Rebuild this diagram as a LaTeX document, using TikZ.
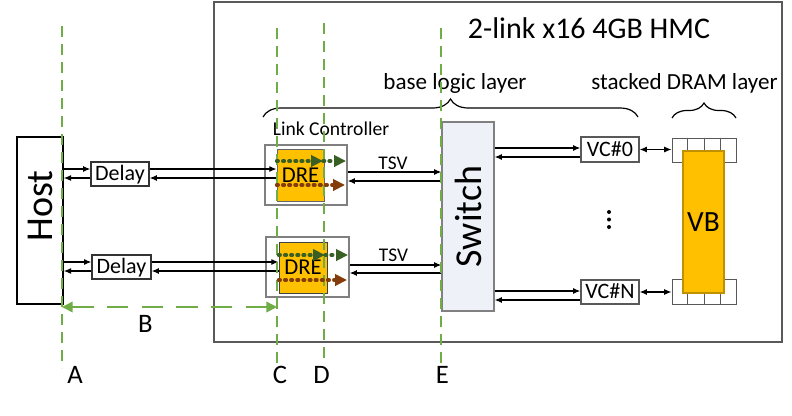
\documentclass[tikz,border=0pt]{standalone}
\usepackage{fontspec}
\setmainfont{Carlito}
\usetikzlibrary{arrows.meta,calc,decorations.pathreplacing}
\definecolor{guidegreen}{HTML}{70AD47}
\definecolor{dotgreen}{HTML}{3A5F24}
\definecolor{dotbrown}{HTML}{843C0C}
\definecolor{dreorange}{HTML}{FFC000}
\definecolor{vbborder}{HTML}{BF9000}
\definecolor{swfill}{HTML}{EEF1F8}
\newcommand\fsz[1]{\fontsize{#1}{#1}\selectfont}
\begin{document}
\begin{tikzpicture}[x=0.75pt,y=-0.75pt,
  sz/.style 2 args={minimum width=#1*0.75pt, minimum height=#2*0.75pt},
  box/.style={draw=#1, fill=white, line width=0.9pt, inner sep=0pt},
  box/.default=black,
  arr/.style={-{Latex[length=5.5pt,width=4.5pt]}, line width=0.9pt},
  darr/.style={{Latex[length=5.5pt,width=4.5pt]}-{Latex[length=5.5pt,width=4.5pt]}, line width=0.9pt},
  guide/.style={guidegreen, line width=1pt, dash pattern=on 8.5pt off 5pt},
  span/.style={guidegreen, line width=1.1pt, dash pattern=on 16pt off 10pt, {Triangle[length=8pt,width=8pt]}-{Triangle[length=8pt,width=8pt]}},
  dotline/.style={line width=2.6pt, line cap=round, dash pattern=on 1.2pt off 3.4pt, -{Triangle[length=9pt,width=8.5pt]}},
  lbl/.style={anchor=base, inner sep=0pt},
  brc/.style={decorate, decoration={brace, amplitude=#1}, line width=0.9pt},
  captext/.style={text height=#1, text depth=0pt}
]
\path[use as bounding box] (0,0) rectangle (792,415);

% HMC frame
\node[box=black!65, line width=1.1pt, sz={568}{340}] (hmc) at (498,172) {};

% Host
\node[box=black, line width=1.1pt, sz={46}{167}] (host) at (40,220.5) {};
\node[rotate=90, font=\fsz{28.5pt}, inner sep=0pt] (hosttxt) at (40,206) {Host};

% Delay boxes
\node[box=black!80, sz={58}{24}, font=\fsz{16.5pt}, captext=10.4pt] (dl1) at (120,174) {Delay};
\node[box=black!80, sz={59}{24}, font=\fsz{16.5pt}, captext=10.4pt] (dl2) at (121.5,267) {Delay};

% Link controllers and DREs
\node[box=black!50, sz={82}{60}] (lc1) at (306,175) {};
\node[draw=black!60, fill=dreorange, line width=0.6pt, inner sep=0pt, sz={47}{52}, font=\fsz{17pt}, captext=10.7pt] (dre1) at (300.5,175) {DRE};
\node[box=black!50, sz={83}{60}] (lc2) at (307.5,267) {};
\node[draw=black!75, fill=dreorange, line width=0.6pt, inner sep=0pt, sz={48}{51}, font=\fsz{17pt}, captext=10.7pt] (dre2) at (303,267.5) {DRE};

% Switch
\node[draw=black!50, fill=swfill, line width=0.9pt, inner sep=0pt, sz={52}{189}] (sw) at (468,216.5) {};
\node[rotate=90, font=\fsz{28.5pt}, inner sep=0pt] (swtxt) at (468,216.5) {Switch};

% VCs
\node[box=black!65, sz={58}{25}, font=\fsz{16.5pt}, captext=10.4pt] (vc0) at (610,149.5) {VC\#0};
\node[box=black!65, sz={58}{24}, font=\fsz{16.5pt}, captext=10.4pt] (vcn) at (610,292) {VC\#N};

% Buffers
\node[box=black!65, line width=0.7pt, sz={64}{24}] (buf0) at (704,150) {};
\node[box=black!65, line width=0.7pt, sz={64}{25}] (bufn) at (704,291.5) {};
\foreach \b in {buf0,bufn}
  \foreach \i in {1,2,3}
    \draw[black!65, line width=0.7pt] ($(\b.north west)!\i/4!(\b.north east)$) -- ($(\b.south west)!\i/4!(\b.south east)$);

% VB
\node[draw=vbborder, fill=dreorange, line width=0.9pt, inner sep=0pt, sz={41}{142}, font=\fsz{22pt}, captext=13.9pt] (vb) at (703.5,222) {VB};

% vertical dots
\foreach \yy in {212,219.5,227}
  \fill (609,\yy) circle[radius=2];

% Texts
\node[lbl, font=\fsz{22.5pt}] (title) at (589,38) {2-link x16 4GB HMC};
\node[lbl, font=\fsz{17.3pt}] (bll) at (455,89) {base logic layer};
\node[lbl, font=\fsz{17.3pt}] (sdl) at (684.5,89) {stacked DRAM layer};
\node[lbl, font=\fsz{14.7pt}] (lct) at (331,135) {Link Controller};
\node[lbl, font=\fsz{14.5pt}] (tsv1) at (393,169) {TSV};
\node[lbl, font=\fsz{14.5pt}] (tsv2) at (393.5,261) {TSV};

% Braces
\draw[brc=13.5pt] (263,117) -- (638,117);
\draw[brc=11.25pt] (672,118) -- (736,118);

% Link arrows
\coordinate (r1a) at (0,169); \coordinate (r1b) at (0,178);
\coordinate (r2a) at (0,262); \coordinate (r2b) at (0,271);
\draw[arr] (host.east |- r1a) -- (dl1.west |- r1a);
\draw[arr] (dl1.west |- r1b) -- (host.east |- r1b);
\draw[arr] (dl1.east |- r1a) -- (dre1.west |- r1a);
\draw[arr] (dre1.west |- r1b) -- (dl1.east |- r1b);
\draw[arr] (host.east |- r2a) -- (dl2.west |- r2a);
\draw[arr] (dl2.west |- r2b) -- (host.east |- r2b);
\draw[arr] (dl2.east |- r2a) -- (dre2.west |- r2a);
\draw[arr] (dre2.west |- r2b) -- (dl2.east |- r2b);

% TSV arrows
\coordinate (t1a) at (0,172); \coordinate (t1b) at (0,181);
\coordinate (t2a) at (0,265); \coordinate (t2b) at (0,273);
\draw[arr] (lc1.east |- t1a) -- (sw.west |- t1a);
\draw[arr] (sw.west |- t1b) -- (lc1.east |- t1b);
\draw[arr] (lc2.east |- t2a) -- (sw.west |- t2a);
\draw[arr] (sw.west |- t2b) -- (lc2.east |- t2b);

% Switch - VC arrows
\coordinate (s0a) at (0,148); \coordinate (s0b) at (0,157);
\coordinate (sna) at (0,291); \coordinate (snb) at (0,300);
\draw[arr] (sw.east |- s0a) -- (vc0.west |- s0a);
\draw[arr] (vc0.west |- s0b) -- (sw.east |- s0b);
\draw[arr] (sw.east |- sna) -- (vcn.west |- sna);
\draw[arr] (vcn.west |- snb) -- (sw.east |- snb);

% VC - buffer arrows
\draw[darr] (vc0.east) -- (buf0.west |- vc0.east);
\draw[darr] (vcn.east) -- (bufn.west |- vcn.east);

% Guide lines
\coordinate (At) at (62,26);  \coordinate (Ab) at (62,368);
\coordinate (Ct) at (277,28); \coordinate (Cb) at (277,364);
\coordinate (Dt) at (324,23); \coordinate (Db) at (324,363);
\coordinate (Et) at (441,28); \coordinate (Eb) at (441,365);
\draw[guide] (At) -- (Ab);
\draw[guide] (Ct) -- (Cb);
\draw[guide] (Dt) -- (Db);
\draw[guide] (Et) -- (Eb);

% DRE internal dotted arrows
\coordinate (g1m) at (323,161); \coordinate (g1e) at (346,161); \coordinate (b1e) at (345,185);
\coordinate (g2m) at (325,255); \coordinate (g2e) at (348,255); \coordinate (b2e) at (347,280);
\draw[dotline, dotgreen] (dre1.west |- g1m) -- (g1m);
\draw[dotline, dotgreen] (g1m) -- (g1e);
\draw[dotline, dotbrown] (dre1.west |- b1e) -- (b1e);
\draw[dotline, dotgreen] (dre2.west |- g2m) -- (g2m);
\draw[dotline, dotgreen] (g2m) -- (g2e);
\draw[dotline, dotbrown] (dre2.west |- b2e) -- (b2e);

% B span
\coordinate (Bl) at (62,307); \coordinate (Br) at (277,307);
\draw[span] (Bl) -- (Br);

% Labels
\node[lbl, font=\fsz{20pt}] (labA) at (75,383) {A};
\node[lbl, font=\fsz{20pt}] (labB) at (145.5,332) {B};
\node[lbl, font=\fsz{20pt}] (labC) at (280,383) {C};
\node[lbl, font=\fsz{20pt}] (labD) at (321.5,383) {D};
\node[lbl, font=\fsz{20pt}] (labE) at (442.5,383) {E};
\end{tikzpicture}
\end{document}
